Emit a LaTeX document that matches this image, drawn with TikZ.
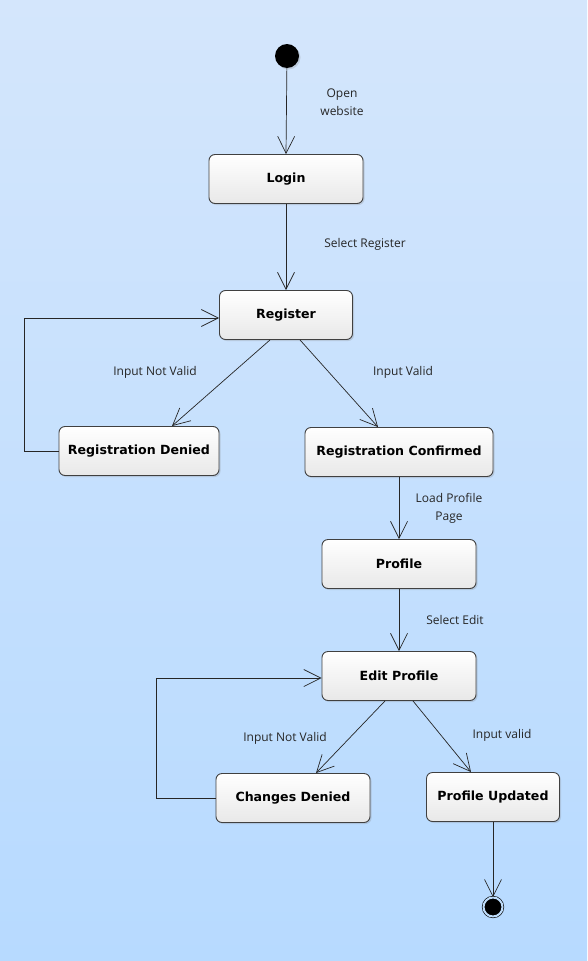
\documentclass[tikz,border=0pt]{standalone}
\usepackage{fontspec}
\setmainfont{DejaVu Sans}
\newfontfamily\labelfont{Open Sans}
\usetikzlibrary{arrows.meta, shadows, positioning}
\definecolor{bgtop}{RGB}{212,230,252}
\definecolor{bgbot}{RGB}{183,218,255}
\definecolor{boxline}{RGB}{64,64,64}
\definecolor{ringfill}{RGB}{190,220,250}
\tikzset{
  state/.style={draw=boxline, line width=0.9pt, rounded corners=6pt,
    top color=white, bottom color=black!9, minimum height=49pt,
    font=\bfseries\fontsize{12.6}{14}\selectfont,
    drop shadow={opacity=0.25, shadow xshift=1.5pt, shadow yshift=-1.5pt}},
  startst/.style={circle, fill=black, inner sep=0pt, minimum size=24pt,
    drop shadow={opacity=0.25, shadow xshift=1.5pt, shadow yshift=-1.5pt}},
  endst/.style={circle, fill=black, inner sep=0pt, minimum size=19pt,
    draw=black, line width=0.6pt, double=ringfill, double distance=2pt,
    drop shadow={opacity=0.25, shadow xshift=1.5pt, shadow yshift=-1.5pt}},
  trans/.style={draw=black!85, line width=0.7pt,
    -{Straight Barb[length=17pt,width=17pt]}},
  lbl/.style={font=\labelfont\fontsize{12}{18}\selectfont, align=center,
    text=black!85},
}

\begin{document}
\begin{tikzpicture}[x=1pt, y=-1pt]
  \shade[top color=bgtop, bottom color=bgbot] (0,0) rectangle (587,961);
  \useasboundingbox (0,0) rectangle (587,961);

  % states
  \node[startst] (init) at (287,56) {};
  \node[state, minimum width=154pt] (login) at (286,179) {Login};
  \node[state, minimum width=133pt] (reg) at (286,315) {Register};
  \node[state, minimum width=160pt] (rd) at (139,451) {Registration Denied};
  \node[state, minimum width=188pt] (rc) at (399,452) {Registration Confirmed};
  \node[state, minimum width=154pt] (prof) at (399,564) {Profile};
  \node[state, minimum width=154pt] (edit) at (399,676) {Edit Profile};
  \node[state, minimum width=154pt] (cd) at (293,798) {Changes Denied};
  \node[state, minimum width=133pt] (pu) at (493,797) {Profile Updated};
  \node[endst] (fin) at (493,907) {};

  % transitions
  \draw[trans] (init) -- (login.north);
  \draw[trans] (login) -- (reg.north);
  \draw[trans] ([xshift=-16pt]reg.south) -- ([xshift=33pt]rd.north);
  \draw[trans] ([xshift=14pt]reg.south) -- ([xshift=-21pt]rc.north);
  \draw[trans] (rd.west) -- ++(-34,0) |- ([yshift=-3pt]reg.west);
  \draw[trans] (rc) -- (prof.north);
  \draw[trans] (prof) -- (edit.north);
  \draw[trans] ([xshift=-14pt]edit.south) -- ([xshift=23pt]cd.north);
  \draw[trans] ([xshift=14pt]edit.south) -- ([xshift=-22pt]pu.north);
  \draw[trans] (cd.west) -- ++(-59,0) |- ([yshift=-2pt]edit.west);
  \draw[trans] (pu) -- (fin);

  % labels
  \node[lbl] (l1) at (342,102) {Open\\website};
  \node[lbl] (l2) at (365,244) {Select Register};
  \node[lbl] (l3) at (155,372) {Input Not Valid};
  \node[lbl] (l4) at (403,372) {Input Valid};
  \node[lbl] (l5) at (449,508) {Load Profile\\Page};
  \node[lbl] (l6) at (455,620) {Select Edit};
  \node[lbl] (l7) at (285,738) {Input Not Valid};
  \node[lbl] (l8) at (502,735) {Input valid};
\end{tikzpicture}
\end{document}
